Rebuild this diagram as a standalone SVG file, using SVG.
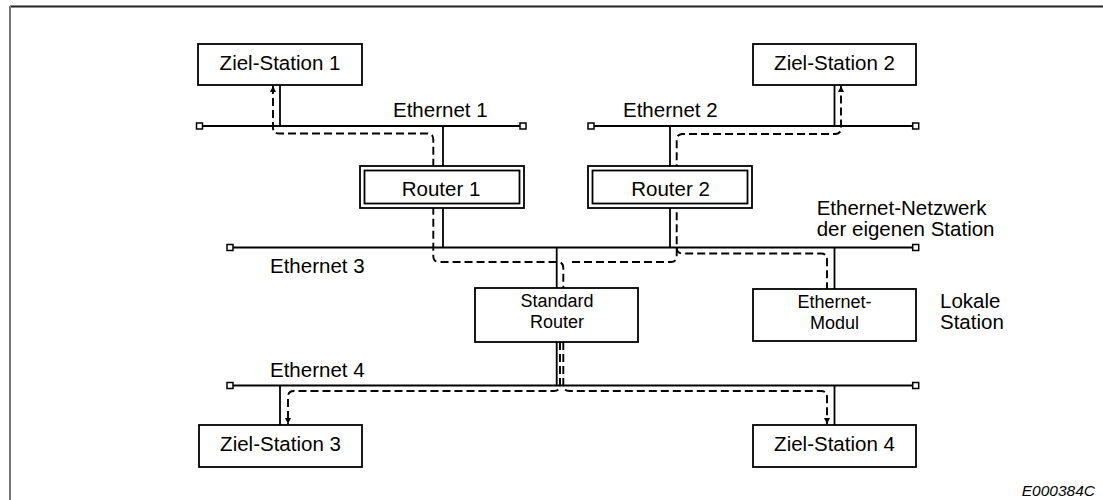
<svg xmlns="http://www.w3.org/2000/svg" width="1103" height="500" viewBox="0 0 1103 500">
<style>
.box{fill:#fff;stroke:#000;stroke-width:1.8}
.bus{stroke:#000;stroke-width:1.8;fill:none}
.term{fill:#fff;stroke:#000;stroke-width:1.5}
.link{stroke:#000;stroke-width:1.8;fill:none}
.route{stroke:#000;stroke-width:1.9;fill:none;stroke-dasharray:8 4}
.t{font-family:"Liberation Sans",Arial,sans-serif;font-size:20.5px;fill:#000}
.s{font-family:"Liberation Sans",Arial,sans-serif;font-size:18px;fill:#000}
.c{text-anchor:middle}
</style>
<defs>
<marker id="arr" viewBox="0 0 8 8" refX="8" refY="4" markerUnits="userSpaceOnUse" markerWidth="7" markerHeight="6" orient="auto-start-reverse">
<path d="M0,0 L8,4 L0,8 z" fill="#000" stroke="none"/>
</marker>
</defs>
<rect width="1103" height="500" fill="#fff"/>
<g id="frame">
<line x1="10" y1="6.5" x2="1103" y2="6.5" stroke="#222" stroke-width="1.8"/>
<line x1="10" y1="6" x2="10" y2="500" stroke="#777" stroke-width="2"/>
</g>
<g id="ethernet1">
<line class="bus" x1="202.5" y1="126" x2="520" y2="126"/>
<rect class="term" x="196.5" y="123" width="6" height="6"/>
<rect class="term" x="520" y="123" width="6" height="6"/>
<text class="t" x="393" y="117">Ethernet 1</text>
</g>
<g id="ethernet2">
<line class="bus" x1="594" y1="126" x2="912.7" y2="126"/>
<rect class="term" x="588" y="123" width="6" height="6"/>
<rect class="term" x="912.7" y="123" width="6" height="6"/>
<text class="t" x="623" y="117">Ethernet 2</text>
</g>
<g id="ethernet3">
<line class="bus" x1="233" y1="247.5" x2="912.7" y2="247.5"/>
<rect class="term" x="227" y="244.5" width="6" height="6"/>
<rect class="term" x="912.7" y="244.5" width="6" height="6"/>
<text class="t" x="270" y="272.7">Ethernet 3</text>
</g>
<g id="ethernet4">
<line class="bus" x1="233" y1="385.5" x2="912.7" y2="385.5"/>
<rect class="term" x="227" y="382.5" width="6" height="6"/>
<rect class="term" x="912.7" y="382.5" width="6" height="6"/>
<text class="t" x="270" y="376.7">Ethernet 4</text>
</g>
<g id="connectors">
<line class="link" x1="280" y1="85" x2="280" y2="126"/>
<line class="link" x1="443" y1="126" x2="443" y2="166"/>
<line class="link" x1="443" y1="208" x2="443" y2="247.5"/>
<line class="link" x1="834.5" y1="85" x2="834.5" y2="126"/>
<line class="link" x1="670" y1="126" x2="670" y2="166"/>
<line class="link" x1="670" y1="208" x2="670" y2="247.5"/>
<line class="link" x1="556.7" y1="247.5" x2="556.7" y2="288"/>
<line class="link" x1="556.7" y1="342" x2="556.7" y2="385.5"/>
<line class="link" x1="834.5" y1="247.5" x2="834.5" y2="289"/>
<line class="link" x1="280" y1="385.5" x2="280" y2="425"/>
<line class="link" x1="834.5" y1="385.5" x2="834.5" y2="425"/>
<path class="route" marker-start="url(#arr)" d="M273 86 V127.5 Q273 133.5 279 133.5 H427.3 Q433.3 133.5 433.3 139.5 V256 Q433.3 262 439.3 262 H557.3 Q563.3 262 563.3 268 V288"/>
<path class="route" marker-end="url(#arr)" d="M572 262 H670.7 Q676.7 262 676.7 256 V140 Q676.7 134 682.7 134 H835 Q841 134 841 128 V86"/>
<path class="route" d="M676.7 247.5 Q676.7 253.5 682.7 253.5 H821 Q827 253.5 827 259.5 V289"/>
<path class="route" marker-end="url(#arr)" d="M560 342 V385 Q560 391 554 391 H294 Q288 391 288 397 V424"/>
<path class="route" marker-end="url(#arr)" d="M563.3 342 V385 Q563.3 391 569.3 391 H821 Q827 391 827 397 V424"/>
</g>
<g id="zielstation1">
<rect class="box" x="198" y="44" width="164" height="41"/>
<text class="t c" x="280" y="69.5">Ziel-Station 1</text>
</g>
<g id="zielstation2">
<rect class="box" x="753" y="44" width="163" height="41"/>
<text class="t c" x="834.5" y="69.5">Ziel-Station 2</text>
</g>
<g id="router1">
<rect class="box" x="360" y="166" width="164" height="42"/>
<rect class="box" x="364.5" y="170.5" width="155" height="33"/>
<text class="t c" x="441" y="195.7">Router 1</text>
</g>
<g id="router2">
<rect class="box" x="588" y="166" width="164" height="42"/>
<rect class="box" x="592.5" y="170.5" width="155" height="33"/>
<text class="t c" x="670.5" y="195.7">Router 2</text>
</g>
<g id="standardrouter">
<rect class="box" x="475" y="288" width="163" height="54"/>
<text class="s c" x="557" y="307.3">Standard</text>
<text class="s c" x="557" y="327.5">Router</text>
</g>
<g id="ethernetmodul">
<rect class="box" x="753" y="289" width="163" height="52"/>
<text class="s c" x="834.5" y="307.5">Ethernet-</text>
<text class="s c" x="834.5" y="328.5">Modul</text>
</g>
<g id="zielstation3">
<rect class="box" x="199" y="425" width="163" height="42"/>
<text class="t c" x="280.5" y="450.5">Ziel-Station 3</text>
</g>
<g id="zielstation4">
<rect class="box" x="753" y="425" width="163" height="42"/>
<text class="t c" x="834.5" y="450.5">Ziel-Station 4</text>
</g>
<g id="labels">
<text class="t" x="816.7" y="214.5">Ethernet-Netzwerk</text>
<text class="t" x="816.7" y="236">der eigenen Station</text>
<text class="t" x="940" y="308">Lokale</text>
<text class="t" x="940" y="329">Station</text>
<text x="1095" y="496" text-anchor="end" font-family="'Liberation Sans',Arial,sans-serif" font-size="15.5" font-style="italic">E000384C</text>
</g>
</svg>
